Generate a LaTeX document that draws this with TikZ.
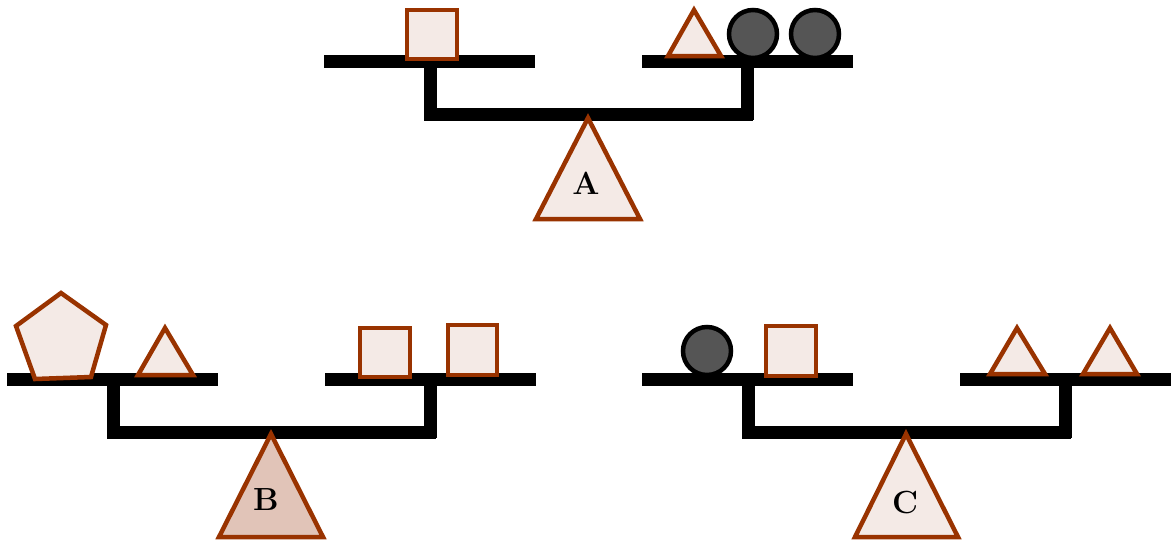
\documentclass[tikz,border=0pt]{standalone}
\usepackage{fontspec}
\begin{document}
\begin{tikzpicture}[x=1pt,y=-1pt,
  beam/.style={line width=13pt,line cap=butt,draw=black},
  obj/.style={line width=4.5pt,draw=brown1,fill=fill1,line join=miter},
  ball/.style={line width=4.5pt,draw=black,fill=gray1},
  lbl/.style={inner sep=0pt}]
\definecolor{brown1}{HTML}{993300}
\definecolor{fill1}{HTML}{F4EAE6}
\definecolor{fill2}{HTML}{E1C4B8}
\definecolor{gray1}{HTML}{555555}
\useasboundingbox (0,0) rectangle (1176,542);
\tikzset{
  scale frame/.pic={
    \draw[beam] (0,0) -- (211,0);
    \draw[beam] (318,0) -- (529,0);
    \draw[beam] (106,0) -- (106,59);
    \draw[beam] (423,0) -- (423,59);
    \draw[beam] (100,53) -- (429,53);
  }}
% Scale A
\pic at (324,61) {scale frame};
\draw[obj] (264+324,57+61) -- (316+324,158+61) -- (212+324,158+61) -- cycle;
\node[lbl] (la) at (586,183) {\fontsize{32}{34}\selectfont\bfseries A};
\draw[obj] (407,10) rectangle (457,59);
\draw[obj] (694,10) -- (721,56) -- (668,56) -- cycle;
\draw[ball] (753,34) circle (24);
\draw[ball] (815,34) circle (24);
% Scale B
\pic at (7,379) {scale frame};
\draw[obj,fill=fill2] (271,434) -- (323,537) -- (219,537) -- cycle;
\node[lbl] (lb) at (266,500) {\fontsize{32}{34}\selectfont\bfseries B};
\draw[obj] (61,293) -- (106,325) -- (91,377) -- (35,379) -- (16,326) -- cycle;
\draw[obj] (165,328) -- (193,375) -- (138,375) -- cycle;
\draw[obj] (360,328) rectangle (410,377);
\draw[obj] (448,325) rectangle (497,375);
% Scale C
\pic at (642,379) {scale frame};
\draw[obj] (906,434) -- (958,537) -- (855,537) -- cycle;
\node[lbl] (lc) at (905,503) {\fontsize{32}{34}\selectfont\bfseries C};
\draw[ball] (707,351) circle (24);
\draw[obj] (766,326) rectangle (816,376);
\draw[obj] (1017,328) -- (1045,374) -- (990,374) -- cycle;
\draw[obj] (1110,328) -- (1137,374) -- (1083,374) -- cycle;
\end{tikzpicture}
\end{document}
